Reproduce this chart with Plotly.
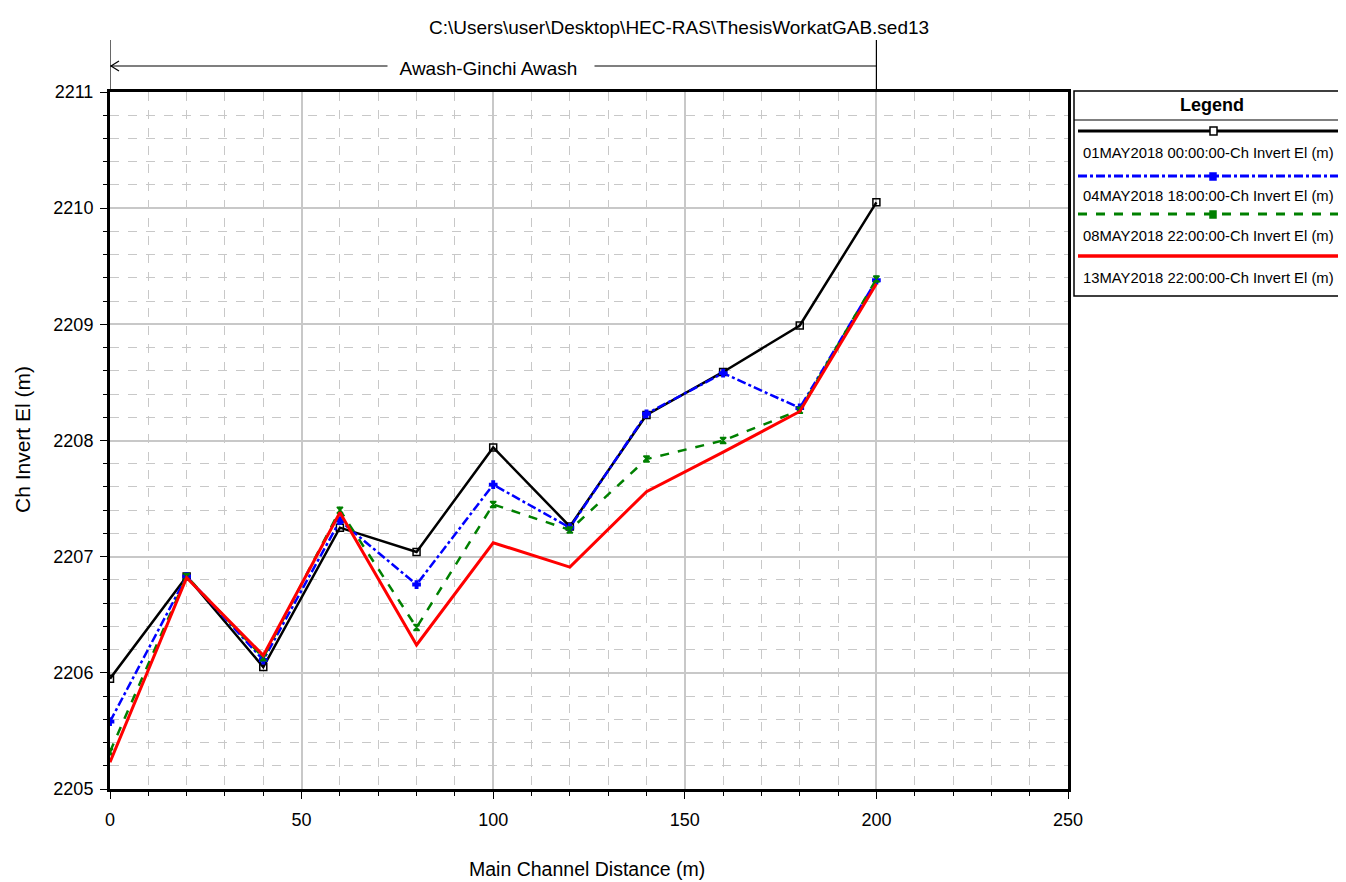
import plotly.graph_objects as go

# ---- data ----
distance = [0, 20, 40, 60, 80, 100, 120, 140, 160, 180, 200]
series_names = [
    "01MAY2018 00:00:00-Ch Invert El (m)",
    "04MAY2018 18:00:00-Ch Invert El (m)",
    "08MAY2018 22:00:00-Ch Invert El (m)",
    "13MAY2018 22:00:00-Ch Invert El (m)",
]
el_01may = [2205.95, 2206.83, 2206.05, 2207.25, 2207.04, 2207.94, 2207.26, 2208.22, 2208.59, 2208.99, 2210.05]
el_04may = [2205.58, 2206.83, 2206.11, 2207.31, 2206.76, 2207.62, 2207.25, 2208.23, 2208.58, 2208.28, 2209.38]
el_08may = [2205.32, 2206.83, 2206.13, 2207.40, 2206.39, 2207.45, 2207.23, 2207.84, 2208.00, 2208.26, 2209.39]
el_13may = [2205.23, 2206.82, 2206.15, 2207.38, 2206.24, 2207.12, 2206.91, 2207.56, 2207.90, 2208.25, 2209.35]
reach_name = "Awash-Ginchi Awash"
reach_start, reach_end = 0, 200
title_text = "C:\\Users\\user\\Desktop\\HEC-RAS\\ThesisWorkatGAB.sed13"
x_title = "Main Channel Distance (m)"
y_title = "Ch Invert El (m)"

FONT = "Liberation Sans Narrow, Arial Narrow, Liberation Sans, Arial, sans-serif"

OFF = 8  # page body margin
W, H = 1346 - OFF, 882 - OFF
L, R, T, B = 110, 1068, 92, 789  # plot area in page pixels


def px(x):
    return (x - L) / (R - L)


def py(y):
    return (B - y) / (B - T)


styles = [
    dict(color="black", dash="solid", width=2.5, symbol="square-open", msize=7),
    dict(color="#0000ff", dash="dashdot", width=2.5, symbol="cross", msize=6),
    dict(color="#008000", dash="dash", width=2.5, symbol="hourglass", msize=6),
    dict(color="#ff0000", dash="solid", width=3, symbol=None, msize=0),
]
values = [el_01may, el_04may, el_08may, el_13may]

fig = go.Figure()
for name, vals, st in zip(series_names, values, styles):
    mode = "lines+markers" if st["symbol"] else "lines"
    fig.add_trace(go.Scatter(
        x=distance, y=vals, name=name, mode=mode,
        line=dict(color=st["color"], dash=st["dash"], width=st["width"]),
        marker=dict(symbol=st["symbol"] or "circle", size=st["msize"], color=st["color"],
                    line=dict(color=st["color"], width=1.5)),
        showlegend=False,
    ))

axis_common = dict(
    showline=True, linecolor="black", linewidth=3, mirror=True,
    showgrid=True, gridcolor="#c8c8c8", gridwidth=1.5,
    ticks="outside", tickcolor="black", ticklen=7, tickwidth=1,
    tickfont=dict(family=FONT, size=18, color="black"),
    zeroline=False, automargin=False,
)

fig.update_layout(
    width=W, height=H,
    margin=dict(l=L - OFF, r=W - (R - OFF), t=T - OFF, b=H - (B - OFF), autoexpand=False),
    paper_bgcolor="white", plot_bgcolor="white",
    xaxis=dict(
        range=[0, 250], dtick=50, tick0=0,
        minor=dict(dtick=10, ticks="outside", ticklen=4, tickcolor="black",
                   showgrid=True, gridcolor="#c8c8c8", griddash="dash", gridwidth=1),
        ticklabelstandoff=5,
        **axis_common,
    ),
    yaxis=dict(
        range=[2205, 2211], dtick=1, tick0=2205,
        minor=dict(dtick=0.2, ticks="outside", ticklen=4, tickcolor="black",
                   showgrid=True, gridcolor="#c8c8c8", griddash="dash", gridwidth=1),
        ticklabelstandoff=3,
        **axis_common,
    ),
)

shapes = []
annotations = []

# Title
annotations.append(dict(text=title_text, xref="paper", yref="paper", x=px(679), y=py(27),
                        showarrow=False, font=dict(family=FONT, size=19, color="black"),
                        xanchor="center", yanchor="middle"))

# Axis titles
annotations.append(dict(text=x_title, xref="paper", yref="paper", x=px(587), y=py(869),
                        showarrow=False, font=dict(family=FONT, size=19.5, color="black"),
                        xanchor="center", yanchor="middle"))
annotations.append(dict(text=y_title, xref="paper", yref="paper", x=px(22), y=py(440),
                        showarrow=False, textangle=-90, font=dict(family=FONT, size=21, color="black"),
                        xanchor="center", yanchor="middle"))

# Reach arrow
for xv in (reach_start, reach_end):
    shapes.append(dict(type="line", xref="x", yref="paper", x0=xv, x1=xv, y0=1, y1=py(40),
                       line=dict(color="black", width=1.2)))
shapes.append(dict(type="line", xref="x", yref="paper", x0=reach_start, x1=reach_end, y0=py(66), y1=py(66),
                   line=dict(color="black", width=1.2)))
shapes.append(dict(type="line", xref="paper", yref="paper", x0=px(111), x1=px(119), y0=py(66), y1=py(61),
                   line=dict(color="black", width=1.2)))
shapes.append(dict(type="line", xref="paper", yref="paper", x0=px(111), x1=px(119), y0=py(66), y1=py(71),
                   line=dict(color="black", width=1.2)))
annotations.append(dict(text="\u00a0\u00a0" + reach_name + "\u00a0\u00a0\u00a0", xref="paper", yref="paper",
                        x=px(491), y=py(68),
                        showarrow=False, bgcolor="white", borderpad=1,
                        font=dict(family=FONT, size=19, color="black"),
                        xanchor="center", yanchor="middle"))

# Custom legend box
shapes.append(dict(type="rect", xref="paper", yref="paper", x0=px(1074), x1=px(1352), y0=py(296), y1=py(91),
                   line=dict(color="black", width=1.5), fillcolor="white"))
shapes.append(dict(type="line", xref="paper", yref="paper", x0=px(1074), x1=px(1352), y0=py(120), y1=py(120),
                   line=dict(color="black", width=1.2)))
annotations.append(dict(text="<b>Legend</b>", xref="paper", yref="paper", x=px(1212), y=py(105),
                        showarrow=False, font=dict(family=FONT, size=18, color="black"),
                        xanchor="center", yanchor="middle"))
line_ys = [131, 176, 214, 256]
text_ys = [153, 196, 236, 278]
for name, st, ly, ty in zip(series_names, styles, line_ys, text_ys):
    shapes.append(dict(type="line", xref="paper", yref="paper", x0=px(1078), x1=px(1352), y0=py(ly), y1=py(ly),
                       line=dict(color=st["color"], dash=st["dash"], width=st["width"] + 0.5)))
    if st["symbol"] == "square-open":
        shapes.append(dict(type="rect", xref="paper", yref="paper", x0=px(1210), x1=px(1217),
                           y0=py(ly + 4), y1=py(ly - 4), line=dict(color="black", width=1.5), fillcolor="white"))
    elif st["symbol"]:
        shapes.append(dict(type="rect", xref="paper", yref="paper", x0=px(1210), x1=px(1216),
                           y0=py(ly + 4), y1=py(ly - 3), line=dict(color=st["color"], width=1.5),
                           fillcolor=st["color"]))
    annotations.append(dict(text=name, xref="paper", yref="paper", x=px(1081), y=py(ty),
                            showarrow=False, font=dict(family=FONT, size=14.8, color="black"),
                            xanchor="left", yanchor="middle"))

fig.update_layout(shapes=shapes, annotations=annotations)
fig.write_html("out.html")
